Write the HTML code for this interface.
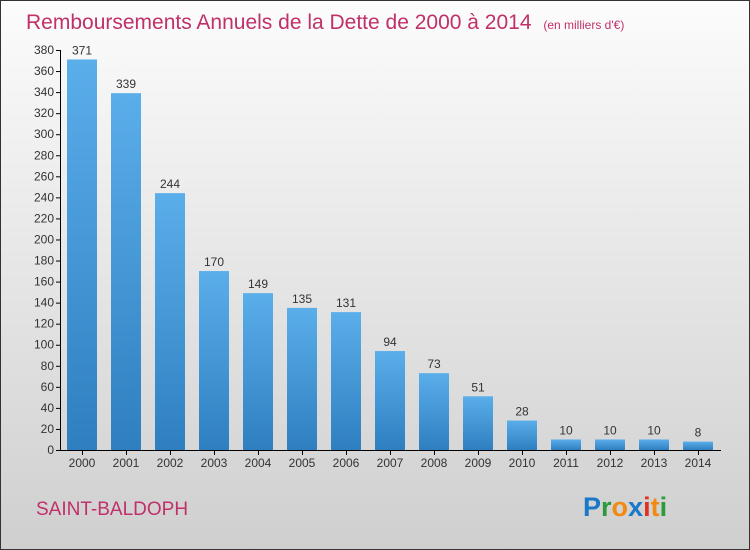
<!DOCTYPE html>
<html><head><meta charset="utf-8"><style>
body{margin:0}
#wrap{position:relative;width:748px;height:548px;border:1px solid #333;background:linear-gradient(#fcfcfc,#cfcfcf);font-family:"Liberation Sans",sans-serif;overflow:hidden}
</style></head><body>
<div id="wrap">
<svg id="svg" width="748" height="548">
<defs><linearGradient id="bg" x1="0" y1="0" x2="0" y2="1"><stop offset="0" stop-color="#5aaeea"/><stop offset="1" stop-color="#2f7fc0"/></linearGradient></defs>
<text x="25" y="28" font-size="21" fill="#c0306a">Remboursements Annuels de la Dette de 2000 à 2014 <tspan font-size="12" dx="6">(en milliers d'€)</tspan></text>
<text x="35" y="514" font-size="19" fill="#c0306a">SAINT-BALDOPH</text>
<text x="582" y="515" font-size="27" font-weight="bold"><tspan fill="#1a78c8">P</tspan><tspan fill="#2a9a3a">r</tspan><tspan fill="#f08a10">o</tspan><tspan fill="#1a78c8">x</tspan><tspan fill="#e03020">i</tspan><tspan fill="#f08a10">t</tspan><tspan fill="#2a9a3a">i</tspan></text>
<g id="g"></g>
</svg></div>
<script>
const years=["2000","2001","2002","2003","2004","2005","2006","2007","2008","2009","2010","2011","2012","2013","2014"];
const values=[371,339,244,170,149,135,131,94,73,51,28,10,10,10,8];
const ticks=[0,20,40,60,80,100,120,140,160,180,200,220,240,260,280,300,320,340,360,380];
const ns="http://www.w3.org/2000/svg",g=document.getElementById('g');
const y=v=>449-v*400/380, x=i=>81+i*44;
function mk(t,a,txt){const e=document.createElementNS(ns,t);for(const k in a)e.setAttribute(k,a[k]);if(txt!=null)e.textContent=txt;g.appendChild(e);return e;}
let e=mk('line',{x1:59.5,y1:49,x2:59.5,y2:449,stroke:'#000'});

e=mk('line',{x1:59,y1:449.5,x2:720,y2:449.5,stroke:'#000'});

ticks.forEach(t=>{
 e=mk('line',{x1:55,x2:60,y1:y(t)+.5,y2:y(t)+.5,stroke:'#000'});
 
 e=mk('text',{x:53,y:y(t)+4,'font-size':12,'text-anchor':'end',fill:'#333'},t);
 
});
values.forEach((v,i)=>{
 e=mk('rect',{x:x(i)-15,y:y(v),width:30,height:449-y(v),fill:'url(#bg)'});
 
 e=mk('text',{x:x(i),y:y(v)-5,'font-size':12,'text-anchor':'middle',fill:'#333'},v);
 
 e=mk('line',{x1:x(i)+.5,x2:x(i)+.5,y1:449,y2:454,stroke:'#000'});
 
 e=mk('text',{x:x(i),y:466,'font-size':12,'text-anchor':'middle',fill:'#333'},years[i]);
 
});
</script>
</body></html>
